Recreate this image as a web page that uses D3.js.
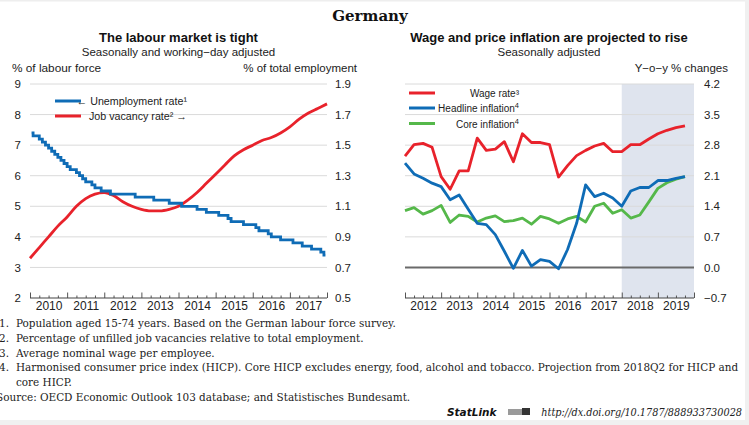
<!DOCTYPE html>
<html>
<head>
<meta charset="utf-8">
<script src="https://cdn.jsdelivr.net/npm/d3@7/dist/d3.min.js"></script>
<style>
  body { margin: 0; background: #fff; }
  svg { display: block; font-family: "Liberation Sans", Arial, sans-serif; }
  .tick text { fill: #222; font-size: 11.5px; }
  .note { font-family: "DejaVu Serif Condensed", "DejaVu Serif", serif; font-size: 11.6px; fill: #222; }
</style>
</head>
<body>
<svg id="chart" width="749" height="425"></svg>
<script>
// ---- data ----
// unemployment rate, monthly, Jan 2010 .. Dec 2017 (% of labour force)
var unemployment = [
  7.4, 7.3, 7.3, 7.2, 7.1, 7.0, 6.9, 6.8, 6.7, 6.6, 6.5, 6.4,
  6.3, 6.2, 6.2, 6.1, 6.0, 5.9, 5.8, 5.8, 5.7, 5.6, 5.6, 5.5,
  5.5, 5.5, 5.4, 5.4, 5.4, 5.4, 5.4, 5.4, 5.4, 5.4, 5.3, 5.3,
  5.3, 5.3, 5.3, 5.3, 5.2, 5.2, 5.2, 5.2, 5.2, 5.1, 5.1, 5.1,
  5.1, 5.0, 5.0, 5.0, 5.0, 5.0, 4.9, 4.9, 4.9, 4.8, 4.8, 4.8,
  4.8, 4.7, 4.7, 4.7, 4.6, 4.5, 4.5, 4.5, 4.5, 4.4, 4.4, 4.4,
  4.4, 4.3, 4.2, 4.2, 4.2, 4.1, 4.0, 4.0, 4.0, 3.9, 3.9, 3.9,
  3.9, 3.8, 3.8, 3.8, 3.7, 3.7, 3.7, 3.6, 3.6, 3.6, 3.5, 3.4
];
// job vacancy rate, quarterly from 2010 (% of total employment)
var vacancy = [
  0.76, 0.83, 0.90, 0.97, 1.03, 1.10, 1.15, 1.18,
  1.19, 1.17, 1.13, 1.10, 1.08, 1.07, 1.07, 1.08,
  1.10, 1.14, 1.19, 1.25, 1.31, 1.37, 1.43, 1.47,
  1.50, 1.53, 1.55, 1.58, 1.62, 1.67, 1.71, 1.74, 1.77
];
// y-o-y % changes, quarterly 2012Q1 .. 2019Q4
var wageRate = [
  2.55, 2.81, 2.84, 2.75, 2.08, 1.79, 2.21, 2.21,
  2.96, 2.68, 2.71, 2.88, 2.42, 3.06, 2.86, 2.86,
  2.81, 2.07, 2.33, 2.56, 2.68, 2.78, 2.84, 2.65,
  2.65, 2.81, 2.81, 2.94, 3.06, 3.14, 3.20, 3.24
];
var headline = [
  2.39, 2.14, 2.04, 1.93, 1.85, 1.55, 1.66, 1.33,
  1.01, 0.98, 0.75, 0.37, -0.02, 0.39, 0.03, 0.18,
  0.14, -0.03, 0.41, 1.01, 1.89, 1.62, 1.70, 1.59,
  1.40, 1.75, 1.83, 1.83, 1.99, 1.99, 2.04, 2.08
];
var core = [
  1.30, 1.37, 1.22, 1.30, 1.42, 1.03, 1.20, 1.17,
  1.04, 1.13, 1.18, 1.05, 1.07, 1.13, 0.99, 1.17,
  1.11, 1.01, 1.11, 1.17, 1.04, 1.40, 1.47, 1.24,
  1.32, 1.13, 1.20, 1.50, 1.81, 1.94, 2.02, 2.08
];
var leftYears = [2010, 2011, 2012, 2013, 2014, 2015, 2016, 2017];
var rightYears = [2012, 2013, 2014, 2015, 2016, 2017, 2018, 2019];
var leftTicks = [2, 3, 4, 5, 6, 7, 8, 9];
var vacTicks = [0.5, 0.7, 0.9, 1.1, 1.3, 1.5, 1.7, 1.9];
var yoyTicks = [-0.7, 0, 0.7, 1.4, 2.1, 2.8, 3.5, 4.2];
var projStart = 2018;

var notes = [
  ["1.", "Population aged 15-74 years. Based on the German labour force survey."],
  ["2.", "Percentage of unfilled job vacancies relative to total employment."],
  ["3.", "Average nominal wage per employee."],
  ["4.", "Harmonised consumer price index (HICP). Core HICP excludes energy, food, alcohol and tobacco. Projection from 2018Q2 for HICP and"],
  ["", "core HICP."]
];

var RED = "#e8222b", BLUE = "#0f6cb6", GREEN = "#55b84a", GRID = "#dadada";

var svg = d3.select("#chart");

// page frame
svg.append("rect").attr("x", 0).attr("y", 0).attr("width", 749).attr("height", 1.5).attr("fill", "#eeeeee");
svg.append("rect").attr("x", 745).attr("y", 0).attr("width", 4).attr("height", 425).attr("fill", "#f0f0f0");
svg.append("rect").attr("x", 0).attr("y", 420).attr("width", 749).attr("height", 5).attr("fill", "#f0f0f0");

svg.append("text").attr("x", 370).attr("y", 21).attr("text-anchor", "middle")
  .style("font-family", "'DejaVu Serif', serif").style("font-weight", "bold").style("font-size", "15px")
  .attr("fill", "#111").text("Germany");

var plotTop = 84, plotBottom = 298;

function quarterTicks(y0, y1) {
  var out = [];
  for (var y = y0; y < y1; y++) for (var q = 1; q < 4; q++) out.push(y + q / 4);
  return out;
}

function xAxisFor(g, x, years) {
  var x0 = years[0], x1 = years[years.length - 1] + 1;
  var ax = g.append("g").attr("transform", "translate(0," + plotBottom + ")");
  ax.call(d3.axisBottom(x).tickValues(d3.range(x0, x1 + 1)).tickSize(-5.5).tickFormat(""));
  ax.append("g").call(d3.axisBottom(x).tickValues(quarterTicks(x0, x1)).tickSize(-2.5).tickFormat(""));
  ax.selectAll("path.domain").remove();
  ax.selectAll("line").attr("stroke", "#555");
  ax.append("line").attr("x1", x(x0)).attr("x2", x(x1)).attr("stroke", "#444").attr("stroke-width", 1.2);
  var lab = g.append("g").attr("transform", "translate(0," + plotBottom + ")")
    .call(d3.axisBottom(x).tickValues(years.map(function (d) { return d + 0.5; }))
      .tickSize(0).tickPadding(3).tickFormat(function (d) { return Math.floor(d); }));
  lab.select(".domain").remove();
  lab.selectAll("text").style("font-size", "12px");
}

function grid(g, x, y, ticks, x0, x1) {
  g.append("g").selectAll("line").data(ticks).join("line")
    .attr("x1", x(x0)).attr("x2", x(x1))
    .attr("y1", function (d) { return y(d); }).attr("y2", function (d) { return y(d); })
    .attr("stroke", GRID).attr("stroke-width", 1);
}

function heading(cx, title, sub, left, right) {
  svg.append("text").attr("x", cx).attr("y", 42).attr("text-anchor", "middle")
    .style("font-weight", "bold").style("font-size", "13px").attr("fill", "#111").text(title);
  svg.append("text").attr("x", cx).attr("y", 56).attr("text-anchor", "middle")
    .style("font-size", "11.5px").attr("fill", "#222").text(sub);
  if (left) svg.append("text").attr("x", left[0]).attr("y", 72)
    .style("font-size", "11.8px").attr("fill", "#222").text(left[1]);
  if (right) svg.append("text").attr("x", right[0]).attr("y", 72).attr("text-anchor", "end")
    .style("font-size", "11.5px").attr("fill", "#222").text(right[1]);
}

// legend entry: text with an optional raised footnote mark
function legendText(g, x, y, label, mark, size) {
  var t = g.append("text").attr("x", x).attr("y", y).attr("text-anchor", "end")
    .style("font-size", size).attr("fill", "#222");
  t.append("tspan").text(label);
  if (mark) t.append("tspan").attr("dy", -4).style("font-size", "7.5px").text(mark);
  return t;
}

// ---- left panel ----
var xL = d3.scaleLinear().domain([2010, 2018]).range([30, 327]);
var yL = d3.scaleLinear().domain([2, 9]).range([plotBottom, plotTop]);
var yV = d3.scaleLinear().domain([0.5, 1.9]).range([plotBottom, plotTop]);
var gL = svg.append("g");

heading(178.5, "The labour market is tight", "Seasonally and working\u2212day adjusted",
  [12, "% of labour force"], [357, "% of total employment"]);

grid(gL, xL, yL, leftTicks.slice(1), 2010, 2018);

var axL = gL.append("g").attr("transform", "translate(30,0)")
  .call(d3.axisLeft(yL).tickValues(leftTicks).tickSize(0).tickPadding(9).tickFormat(d3.format("d")));
axL.select(".domain").remove();
var axR = gL.append("g").attr("transform", "translate(327,0)")
  .call(d3.axisRight(yV).tickValues(vacTicks).tickSize(0).tickPadding(8).tickFormat(d3.format(".1f")));
axR.select(".domain").remove();

xAxisFor(gL, xL, leftYears);

gL.append("path").datum(vacancy)
  .attr("fill", "none").attr("stroke", RED).attr("stroke-width", 2.8)
  .attr("d", d3.line().curve(d3.curveMonotoneX)
    .x(function (d, i) { return xL(2010 + i / 4); }).y(function (d) { return yV(d); }));

gL.append("path").datum(unemployment)
  .attr("fill", "none").attr("stroke", BLUE).attr("stroke-width", 2.8)
  .attr("d", d3.line().curve(d3.curveStep)
    .x(function (d, i) { return xL(2010 + (i + 0.5) / 12); }).y(function (d) { return yL(d); }));

var legL = [
  { c: BLUE, t: "\u2190 Unemployment rate\u00b9", y: 101 },
  { c: RED, t: "Job vacancy rate\u00b2 \u2192", y: 116 }
];
legL.forEach(function (d) {
  gL.append("line").attr("x1", 55).attr("x2", 81).attr("y1", d.y).attr("y2", d.y)
    .attr("stroke", d.c).attr("stroke-width", 3);
  legendText(gL, 187, d.y + 4, d.t, null, "10.7px");
});

// ---- right panel ----
var xR = d3.scaleLinear().domain([2012, 2020]).range([405, 694]);
var yY = d3.scaleLinear().domain([-0.7, 4.2]).range([plotBottom, plotTop]);
var gR = svg.append("g");

heading(549, "Wage and price inflation are projected to rise", "Seasonally adjusted",
  null, [728, "Y\u2212o\u2212y % changes"]);

gR.append("rect").attr("x", xR(projStart)).attr("y", plotTop)
  .attr("width", xR(2020) - xR(projStart)).attr("height", plotBottom - plotTop).attr("fill", "#dfe4ee");

grid(gR, xR, yY, yoyTicks.slice(1).filter(function (d) { return d !== 0; }), 2012, 2020);

gR.append("line").attr("x1", xR(2012)).attr("x2", xR(2020)).attr("y1", yY(0)).attr("y2", yY(0))
  .attr("stroke", "#6a6a6a").attr("stroke-width", 2);

var axY = gR.append("g").attr("transform", "translate(694,0)")
  .call(d3.axisRight(yY).tickValues(yoyTicks).tickSize(0).tickPadding(10).tickFormat(d3.format(".1f")));
axY.select(".domain").remove();

xAxisFor(gR, xR, rightYears);

var q = d3.line().x(function (d, i) { return xR(2012 + i / 4); }).y(function (d) { return yY(d); });
[[core, GREEN], [headline, BLUE], [wageRate, RED]].forEach(function (s) {
  gR.append("path").datum(s[0]).attr("fill", "none").attr("stroke", s[1])
    .attr("stroke-width", 2.8).attr("stroke-linejoin", "round").attr("d", q);
});

var legR = [
  { c: RED, t: "Wage rate\u00b3", m: null, y: 93 },
  { c: BLUE, t: "Headline inflation", m: "4", y: 108 },
  { c: GREEN, t: "Core inflation", m: "4", y: 123.5 }
];
legR.forEach(function (d) {
  gR.append("line").attr("x1", 409).attr("x2", 435).attr("y1", d.y).attr("y2", d.y)
    .attr("stroke", d.c).attr("stroke-width", 3);
  legendText(gR, 519, d.y + 4, d.t, d.m, "10px");
});

// ---- notes ----
var ny = 327;
notes.forEach(function (n, i) {
  if (n[0]) svg.append("text").attr("class", "note").attr("x", -1).attr("y", ny + i * 14.8).text(n[0]);
  svg.append("text").attr("class", "note").attr("x", 16).attr("y", ny + i * 14.8).text(n[1]);
});
svg.append("text").attr("class", "note").attr("x", -4).attr("y", ny + 5 * 14.8)
  .text("Source:  OECD Economic Outlook 103 database; and Statistisches Bundesamt.");

svg.append("text").attr("x", 447).attr("y", 416)
  .style("font-family", "'DejaVu Sans', sans-serif").style("font-weight", "bold").style("font-style", "italic")
  .style("font-size", "10.5px").attr("fill", "#111").text("StatLink");
svg.append("rect").attr("x", 508).attr("y", 409).attr("width", 14).attr("height", 6).attr("fill", "#9a9a9a");
svg.append("rect").attr("x", 522).attr("y", 408).attr("width", 8).attr("height", 7).attr("fill", "#333");
svg.append("text").attr("class", "note").attr("x", 742).attr("y", 416).attr("text-anchor", "end")
  .style("font-style", "italic").style("font-size", "10.8px").text("http://dx.doi.org/10.1787/888933730028");
</script>
</body>
</html>
